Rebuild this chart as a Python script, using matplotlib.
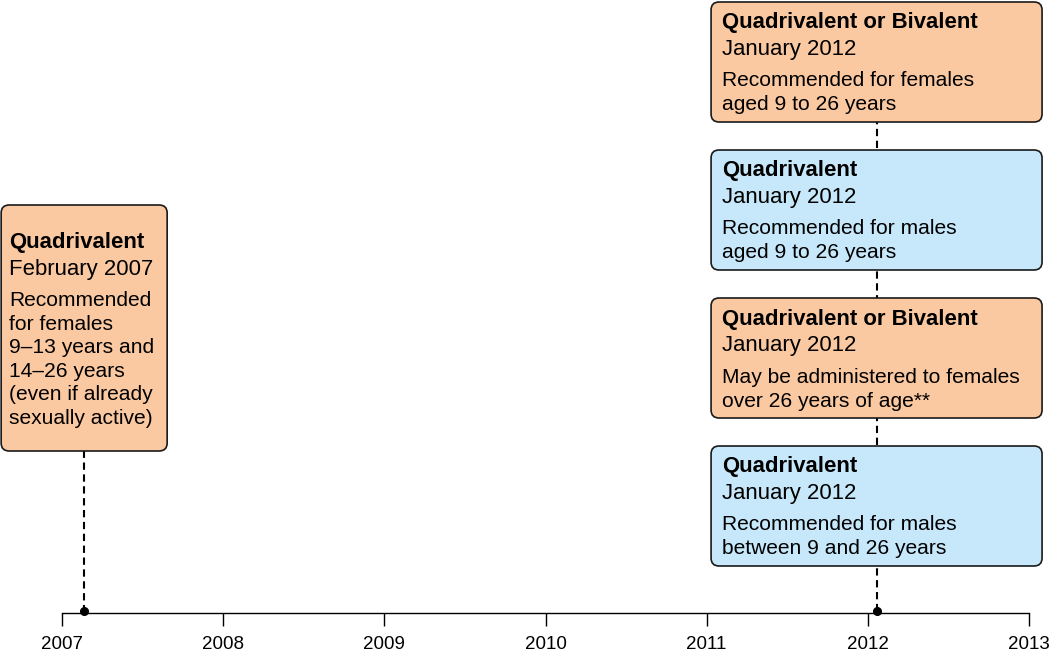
import matplotlib
matplotlib.use("Agg")
import matplotlib.pyplot as plt
from matplotlib.patches import FancyBboxPatch

plt.rcParams['font.family'] = ['Liberation Sans', 'DejaVu Sans']

years = [2007, 2008, 2009, 2010, 2011, 2012, 2013]

# event dates as decimal years (February 2007, January 2012)
event_dates = [2007 + 1.65 / 12, 2012 + 0.65 / 12]

# boxes: which event they hang from, title, date line, description lines, colour
box_event = [0, 1, 1, 1, 1]
box_title = ["Quadrivalent", "Quadrivalent or Bivalent", "Quadrivalent",
             "Quadrivalent or Bivalent", "Quadrivalent"]
box_date = ["February 2007", "January 2012", "January 2012",
            "January 2012", "January 2012"]
box_desc = [
    ["Recommended", "for females", "9\u201313 years and", "14\u201326 years",
     "(even if already", "sexually active)"],
    ["Recommended for females", "aged 9 to 26 years"],
    ["Recommended for males", "aged 9 to 26 years"],
    ["May be administered to females", "over 26 years of age**"],
    ["Recommended for males", "between 9 and 26 years"],
]
box_sex = ["f", "f", "m", "f", "m"]
colors = {"f": "#fbc9a1", "m": "#c6e8fa"}

# layout in pixels (y measured from top)
W, H = 1050, 654
px_year = (1029 - 62) / 6.0
axis_y = 613
box_top = [205, 2, 150, 298, 446]
box_h = [246, 120, 120, 120, 120]
box_w = [166, 331, 331, 331, 331]
title_off = [43, 26, 26, 27, 26]
text_pad = [8, 11, 11, 11, 11]

fig = plt.figure(figsize=(W / 100, H / 100), dpi=100)
ax = fig.add_axes([0, 0, 1, 1])
ax.set_xlim(2007 - 62 / px_year, 2013 + (W - 1029) / px_year)
ax.set_ylim(H, 0)

for s in ['top', 'left', 'right']:
    ax.spines[s].set_visible(False)
ax.spines['bottom'].set_position(('data', axis_y))
ax.spines['bottom'].set_bounds(years[0], years[-1])
ax.spines['bottom'].set_linewidth(1.0)
ax.set_yticks([])
ax.set_xticks(years)
ax.tick_params(axis='x', direction='out', length=9.5, width=1.0, pad=7,
               labelsize=13.5, colors='black')
ax.patch.set_visible(False)

# dashed connectors and dots
for i, d in enumerate(event_dates):
    tops = [box_top[k] for k in range(len(box_top)) if box_event[k] == i]
    ax.plot([d, d], [min(tops) + 20, axis_y - 2], color='black', lw=1.5,
            ls=(0, (3.5, 2.2)), zorder=1)
    ax.plot(d, axis_y - 2, 'o', color='black', ms=5.5, zorder=3)

# boxes
for k in range(len(box_top)):
    d = event_dates[box_event[k]]
    w = box_w[k] / px_year
    x0 = d - w / 2
    y0 = box_top[k]
    patch = FancyBboxPatch((x0, y0), w, box_h[k],
                           boxstyle="round,pad=0,rounding_size=0.05",
                           mutation_aspect=160,
                           facecolor=colors[box_sex[k]], edgecolor='#1a1a1a',
                           lw=1.2, zorder=2)
    ax.add_patch(patch)
    tx = x0 + text_pad[k] / px_year
    yb = y0 + title_off[k]
    ax.text(tx, yb, box_title[k], fontsize=15.9, fontweight='bold', va='baseline', zorder=4)
    yb += 26.5
    ax.text(tx, yb, box_date[k], fontsize=15.9, va='baseline', zorder=4)
    yb += 31.5
    for line in box_desc[k]:
        ax.text(tx, yb, line, fontsize=15.1, va='baseline', zorder=4)
        yb += 23.6

fig.savefig("out.png", dpi=100)
